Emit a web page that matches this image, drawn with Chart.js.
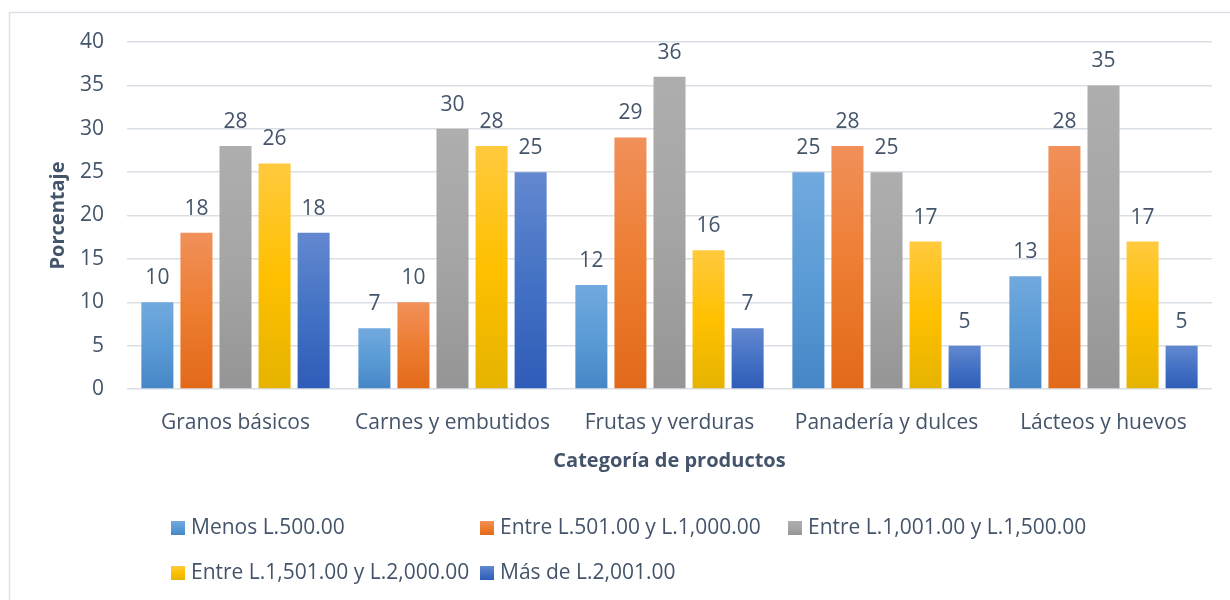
<!DOCTYPE html>
<html lang="es">
<head>
<meta charset="utf-8">
<title>Gasto por categoría de productos</title>
<script src="https://cdn.jsdelivr.net/npm/chart.js@4/dist/chart.umd.min.js"></script>
<style>
  html, body { margin: 0; padding: 0; background: #ffffff; }
  canvas { display: block; }
</style>
</head>
<body>
<canvas id="grafico" width="1230" height="600"></canvas>
<script>
// Categorías del eje X
const categorias = ['Granos básicos', 'Carnes y embutidos', 'Frutas y verduras', 'Panadería y dulces', 'Lácteos y huevos'];

// Rangos de gasto (series)
const rangos = ['Menos L.500.00', 'Entre L.501.00 y L.1,000.00', 'Entre L.1,001.00 y L.1,500.00', 'Entre L.1,501.00 y L.2,000.00', 'Más de L.2,001.00'];

// Porcentaje por categoría para cada rango
const menos500 = [10, 7, 12, 25, 13];
const entre501y1000 = [18, 10, 29, 28, 28];
const entre1001y1500 = [28, 30, 36, 25, 35];
const entre1501y2000 = [26, 28, 16, 17, 17];
const masDe2001 = [18, 25, 7, 5, 5];

// Marcas del eje Y
const ticksY = [0, 5, 10, 15, 20, 25, 30, 35, 40];

// Degradados de relleno: claro arriba, tono base al centro, oscuro abajo
const tonos = [
  ['#71A9DE', '#5B9BD5', '#4786C6'],
  ['#F1905A', '#ED7D31', '#E2691A'],
  ['#AEAEAE', '#A5A5A5', '#959595'],
  ['#FFCA3E', '#FFC000', '#E5B300'],
  ['#6388D0', '#4472C4', '#2E5CB8']
];

const TEXTO = '#44546A';
const FUENTE = "'Open Sans', sans-serif";
const LINEA = '#DADFE6';

function degradado(ctx, y0, y1, t) {
  const g = ctx.createLinearGradient(0, y0, 0, y1);
  g.addColorStop(0, t[0]);
  g.addColorStop(0.5, t[1]);
  g.addColorStop(1, t[2]);
  return g;
}

function rellenoBarra(i) {
  return function (c) {
    const chart = c.chart;
    const y = chart.scales.y;
    if (c.type !== 'data' || !y) return tonos[i][1];
    const top = y.getPixelForValue(c.raw);
    const base = y.getPixelForValue(0);
    if (!isFinite(top) || !isFinite(base) || top === base) return tonos[i][1];
    return degradado(chart.ctx, top, base, tonos[i]);
  };
}

const series = [menos500, entre501y1000, entre1001y1500, entre1501y2000, masDe2001];

// Fondo blanco y marco del área del gráfico
const marco = {
  id: 'marco',
  beforeDraw(chart) {
    const ctx = chart.ctx;
    ctx.save();
    ctx.fillStyle = '#ffffff';
    ctx.fillRect(0, 0, chart.width, chart.height);
    ctx.strokeStyle = '#DDE1E7';
    ctx.lineWidth = 1.5;
    ctx.strokeRect(9.5, 12.5, chart.width + 20, chart.height + 20);
    ctx.restore();
  }
};

// Etiquetas de valor sobre cada barra
const etiquetas = {
  id: 'etiquetas',
  afterDatasetsDraw(chart) {
    const ctx = chart.ctx;
    ctx.save();
    ctx.font = '21px ' + FUENTE;
    ctx.fillStyle = TEXTO;
    ctx.textAlign = 'center';
    ctx.textBaseline = 'alphabetic';
    chart.data.datasets.forEach((ds, i) => {
      const meta = chart.getDatasetMeta(i);
      meta.data.forEach((bar, j) => {
        ctx.fillText(String(ds.data[j]), bar.x, bar.y - 18);
      });
    });
    ctx.restore();
  }
};

// Leyenda en cuadrícula de tres columnas bajo el eje X
const leyenda = {
  id: 'leyenda',
  afterDraw(chart) {
    const ctx = chart.ctx;
    const columnas = [171, 480, 788];
    const filas = [528, 573];
    ctx.save();
    ctx.font = '21px ' + FUENTE;
    ctx.textAlign = 'left';
    ctx.textBaseline = 'middle';
    chart.data.datasets.forEach((ds, i) => {
      const x = columnas[i % 3];
      const y = filas[Math.floor(i / 3)];
      ctx.fillStyle = degradado(ctx, y - 7, y + 7, tonos[i]);
      ctx.fillRect(x, y - 7, 14, 14);
      ctx.fillStyle = TEXTO;
      ctx.fillText(ds.label, x + 20, y);
    });
    ctx.restore();
  }
};

new Chart(document.getElementById('grafico'), {
  type: 'bar',
  data: {
    labels: categorias,
    datasets: rangos.map((nombre, i) => ({
      label: nombre,
      data: series[i],
      backgroundColor: rellenoBarra(i),
      borderWidth: 0,
      categoryPercentage: 0.9,
      barPercentage: 0.82
    }))
  },
  options: {
    responsive: false,
    animation: false,
    layout: { padding: { left: 0, top: 42, right: 18, bottom: 0 } },
    plugins: {
      legend: { display: false },
      tooltip: { enabled: false }
    },
    scales: {
      x: {
        grid: { display: false, drawTicks: false },
        border: { display: false },
        ticks: { color: TEXTO, font: { family: FUENTE, size: 21 }, padding: 21, maxRotation: 0, autoSkip: false },
        title: {
          display: true,
          text: 'Categoría de productos',
          color: TEXTO,
          font: { family: FUENTE, size: 20, weight: 'bold' },
          padding: { top: 0, bottom: 127 }
        },
        afterFit(scale) { scale.height = 211; }
      },
      y: {
        min: 0,
        max: 40,
        grid: { color: LINEA, lineWidth: 1.5, drawTicks: false },
        border: { display: false },
        afterBuildTicks(scale) { scale.ticks = ticksY.map(v => ({ value: v })); },
        ticks: { color: TEXTO, font: { family: FUENTE, size: 21 }, padding: 23 },
        title: {
          display: true,
          text: 'Porcentaje',
          color: TEXTO,
          font: { family: FUENTE, size: 20, weight: 'bold' },
          padding: { top: 46, bottom: 0 }
        },
        afterFit(scale) { scale.width = 127; }
      }
    }
  },
  plugins: [marco, etiquetas, leyenda]
});
</script>
</body>
</html>
